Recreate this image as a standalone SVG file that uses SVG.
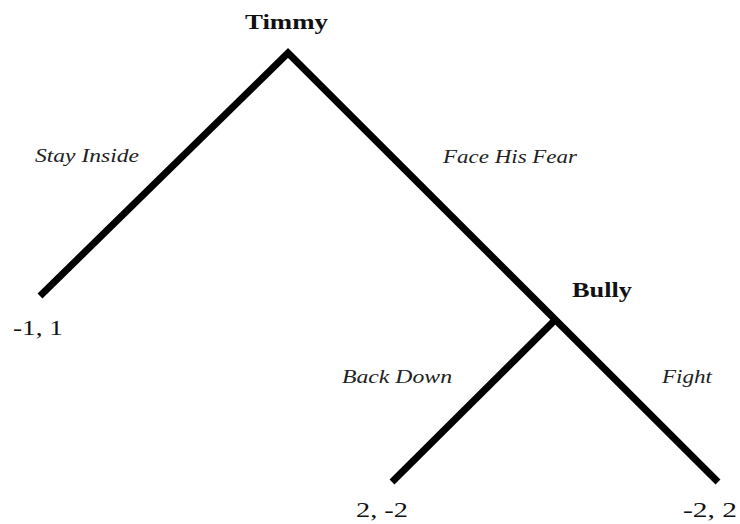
<svg xmlns="http://www.w3.org/2000/svg" width="740" height="524" viewBox="0 0 740 524">
<style>
.edge{stroke:#000;stroke-width:7;fill:none;stroke-linecap:butt;stroke-linejoin:miter}
.name{font-family:"Liberation Serif",serif;font-weight:bold;font-size:22px;fill:#111}
.pay{font-family:"Liberation Serif",serif;font-size:22px;fill:#111}
.act{font-family:"Liberation Serif",serif;font-style:italic;font-size:19px;fill:#222}
</style>
<rect width="740" height="524" fill="#fff"/>
<g id="connectors">
<polyline class="edge" points="40,296 288,53 718,482"/>
<line class="edge" x1="555" y1="320" x2="392" y2="482"/>
</g>
<g id="timmy"><text class="name" x="245" y="29" textLength="83" lengthAdjust="spacingAndGlyphs">Timmy</text></g>
<g id="bully"><text class="name" x="572" y="297" textLength="60" lengthAdjust="spacingAndGlyphs">Bully</text></g>
<g id="leaf1"><text class="pay" x="13" y="335" textLength="50" lengthAdjust="spacingAndGlyphs">-1, 1</text></g>
<g id="leaf2"><text class="pay" x="356" y="517" textLength="52" lengthAdjust="spacingAndGlyphs">2, -2</text></g>
<g id="leaf3"><text class="pay" x="683" y="517" textLength="54" lengthAdjust="spacingAndGlyphs">-2, 2</text></g>
<g id="labels">
<text class="act" x="35" y="162" textLength="104" lengthAdjust="spacingAndGlyphs">Stay Inside</text>
<text class="act" x="443" y="163" textLength="134" lengthAdjust="spacingAndGlyphs">Face His Fear</text>
<text class="act" x="342" y="383" textLength="110" lengthAdjust="spacingAndGlyphs">Back Down</text>
<text class="act" x="662" y="383" textLength="50" lengthAdjust="spacingAndGlyphs">Fight</text>
</g>
</svg>
